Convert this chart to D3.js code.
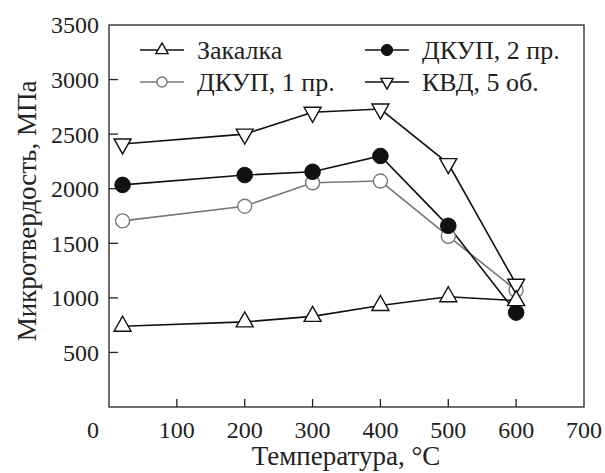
<!DOCTYPE html>
<html><head><meta charset="utf-8">
<script src="https://cdn.jsdelivr.net/npm/d3@7"></script>
<style>body{margin:0;background:#fff}svg{display:block}</style>
</head><body><svg id="c" width="605" height="473"></svg>
<script>
const temps = [20, 200, 300, 400, 500, 600];
const zakalka = [740, 780, 830, 930, 1010, 975];
const dkup1 = [1705, 1840, 2055, 2070, 1565, 1070];
const dkup2 = [2035, 2125, 2155, 2300, 1660, 865];
const kvd = [2410, 2500, 2700, 2730, 2230, 1125];
const seriesNames = ["Закалка", "ДКУП, 1 пр.", "ДКУП, 2 пр.", "КВД, 5 об."];
const xTicks = [0, 100, 200, 300, 400, 500, 600, 700];
const yTicks = [500, 1000, 1500, 2000, 2500, 3000, 3500];

const svg = d3.select("#c");
const FONT = "'Liberation Serif', 'DejaVu Serif', serif";
const L = 109, R = 584, T = 25, B = 407;
const x = d3.scaleLinear().domain([0, 700]).range([L, R]);
const y = d3.scaleLinear().domain([0, 3500]).range([B, T]);
const fs = 24;
const txt = (g, size) => g.append("text").style("font-family", FONT).attr("fill", "#222").attr("font-size", size || fs);

// frame
svg.append("rect").attr("x", L).attr("y", T).attr("width", R - L).attr("height", B - T)
  .attr("fill", "none").attr("stroke", "#222").attr("stroke-width", 1.3);

// x ticks inward
svg.append("g").selectAll("line").data(xTicks.filter(v => v > 0 && v < 700)).join("line")
  .attr("x1", d => x(d)).attr("x2", d => x(d)).attr("y1", B).attr("y2", B - 8)
  .attr("stroke", "#222").attr("stroke-width", 1.3);
xTicks.forEach(d => {
  txt(svg).attr("x", d === 0 ? 93 : x(d)).attr("y", 438).attr("text-anchor", "middle").text(d);
});

// y ticks inward
svg.append("g").selectAll("line").data(yTicks.filter(v => v < 3500)).join("line")
  .attr("x1", L).attr("x2", L + 9).attr("y1", d => y(d)).attr("y2", d => y(d))
  .attr("stroke", "#222").attr("stroke-width", 1.3);
yTicks.forEach(d => {
  txt(svg).attr("x", 99).attr("y", y(d)).attr("dy", "0.35em").attr("text-anchor", "end").text(d);
});

// titles
txt(svg, 27).attr("x", 346).attr("y", 465).attr("text-anchor", "middle").text("Температура, °C");
txt(svg, 27).attr("transform", "translate(36,211) rotate(-90)").attr("text-anchor", "middle").text("Микротвердость, МПа");

function tri(w, h, down) {
  const s = down ? -1 : 1;
  return `M0,${-s * 2 * h / 3}L${w / 2},${s * h / 3}L${-w / 2},${s * h / 3}Z`;
}
function marker(g, kind, scale) {
  const k = scale || 1;
  if (kind === "up") g.append("path").attr("d", tri(17 * k, 15 * k, false)).attr("fill", "#fff").attr("stroke", "#111").attr("stroke-width", 1.4);
  else if (kind === "down") g.append("path").attr("d", tri(17 * k, 15 * k, true)).attr("fill", "#fff").attr("stroke", "#111").attr("stroke-width", 1.4);
  else if (kind === "open") g.append("circle").attr("r", 7 * k).attr("fill", "#fff").attr("stroke", "#777").attr("stroke-width", 1.4);
  else g.append("circle").attr("r", 7.8 * k).attr("fill", "#111").attr("stroke", "#111").attr("stroke-width", 1);
}

const series = [
  {name: seriesNames[1], vals: dkup1, color: "#777", kind: "open"},
  {name: seriesNames[2], vals: dkup2, color: "#111", kind: "filled"},
  {name: seriesNames[3], vals: kvd, color: "#111", kind: "down"},
  {name: seriesNames[0], vals: zakalka, color: "#111", kind: "up"}
];
const line = d3.line().x(d => x(d[0])).y(d => y(d[1]));
series.forEach(s => {
  const pts = temps.map((t, i) => [t, s.vals[i]]);
  svg.append("path").attr("d", line(pts)).attr("fill", "none").attr("stroke", s.color).attr("stroke-width", 1.6);
});
series.forEach(s => {
  temps.forEach((t, i) => {
    const g = svg.append("g").attr("transform", `translate(${x(t)},${y(s.vals[i])})`);
    marker(g, s.kind);
  });
});

// legend
const leg = [
  {name: seriesNames[0], color: "#111", kind: "up", x0: 140, yy: 50},
  {name: seriesNames[1], color: "#777", kind: "open", x0: 140, yy: 82},
  {name: seriesNames[2], color: "#111", kind: "filled", x0: 365, yy: 50},
  {name: seriesNames[3], color: "#111", kind: "down", x0: 365, yy: 82}
];
leg.forEach(l => {
  svg.append("line").attr("x1", l.x0).attr("x2", l.x0 + 44).attr("y1", l.yy).attr("y2", l.yy)
    .attr("stroke", l.color).attr("stroke-width", 1.6);
  const g = svg.append("g").attr("transform", `translate(${l.x0 + 22},${l.yy})`);
  marker(g, l.kind, 0.72);
  txt(svg, 26).attr("x", l.x0 + 57).attr("y", l.yy).attr("dy", "0.34em").text(l.name);
});
</script></body></html>
